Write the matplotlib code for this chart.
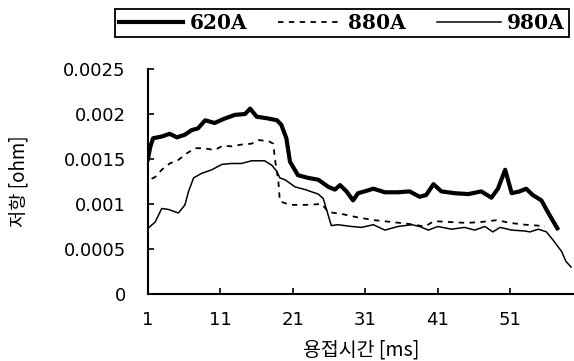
import matplotlib
matplotlib.use("Agg")
import matplotlib.pyplot as plt

# data (time in ms, resistance in ohm)
x_620 = [1.0, 1.3, 1.7, 2.9, 4.0, 5.0, 6.1, 7.0, 7.9, 8.9, 10.2, 11.6, 13.0, 14.4, 15.1, 16.0,
         17.6, 18.8, 19.4, 20.1, 20.6, 21.7, 23.1, 24.5, 25.9, 26.8, 27.5, 28.4, 29.3, 30.0,
         30.9, 32.1, 33.7, 35.5, 37.1, 38.5, 39.4, 40.4, 41.5, 43.3, 45.2, 47.0, 48.4, 49.3,
         50.3, 51.2, 52.3, 53.2, 54.1, 55.3, 56.4, 57.5]
y_620 = [0.00150, 0.00163, 0.00173, 0.00175, 0.00178, 0.00174, 0.00177, 0.00182, 0.00184,
         0.00193, 0.00190, 0.00195, 0.00199, 0.00200, 0.00206, 0.00197, 0.00195, 0.00193,
         0.00188, 0.00173, 0.00147, 0.00132, 0.00129, 0.00127, 0.00119, 0.00116, 0.00121,
         0.00114, 0.00104, 0.00112, 0.00114, 0.00117, 0.00113, 0.00113, 0.00114, 0.00108,
         0.00110, 0.00122, 0.00114, 0.00112, 0.00111, 0.00114, 0.00107, 0.00117, 0.00138,
         0.00112, 0.00114, 0.00117, 0.00110, 0.00104, 0.00088, 0.00073]

x_880 = [1.5, 2.0, 2.9, 4.0, 5.2, 6.3, 7.5, 8.6, 10.2, 11.4, 12.5, 13.9, 15.3, 16.2, 17.6,
         18.3, 18.5, 19.0, 19.2, 20.6, 22.7, 25.0, 25.9, 27.7, 30.0, 32.3, 34.6, 36.9, 39.2,
         40.5, 42.5, 45.0, 47.0, 49.1, 51.0, 53.0, 54.8, 55.8]
y_880 = [0.00128, 0.00130, 0.00138, 0.00145, 0.00149, 0.00156, 0.00162, 0.00162, 0.00160,
         0.00165, 0.00164, 0.00166, 0.00167, 0.00171, 0.00170, 0.00167, 0.00151, 0.00125,
         0.00103, 0.00099, 0.00099, 0.00100, 0.00091, 0.00089, 0.00085, 0.00082, 0.00080,
         0.00078, 0.00075, 0.00081, 0.00080, 0.00079, 0.00080, 0.00082, 0.00079, 0.00077,
         0.00076, 0.00075]

x_980 = [1.0, 2.0, 2.9, 3.8, 5.2, 6.1, 6.6, 7.3, 8.4, 9.8, 11.2, 12.5, 13.9, 15.3, 17.1,
         18.1, 18.8, 19.2, 19.9, 21.3, 22.7, 24.5, 25.2, 25.6, 26.3, 27.2, 29.1, 30.5, 32.1,
         33.7, 35.5, 37.4, 38.5, 39.7, 41.0, 42.9, 44.7, 46.1, 47.5, 48.6, 49.6, 51.2, 53.0,
         53.7, 54.9, 56.0, 57.1, 58.1, 58.7, 59.4]
y_980 = [0.00073, 0.00080, 0.00095, 0.00094, 0.00090, 0.00099, 0.00114, 0.00129, 0.00134,
         0.00138, 0.00144, 0.00145, 0.00145, 0.00148, 0.00148, 0.00143, 0.00136, 0.00129,
         0.00127, 0.00119, 0.00116, 0.00111, 0.00106, 0.00095, 0.00076, 0.00077, 0.00075,
         0.00074, 0.00077, 0.00071, 0.00075, 0.00077, 0.00075, 0.00071, 0.00075, 0.00072,
         0.00074, 0.00071, 0.00075, 0.00069, 0.00074, 0.00071, 0.00070, 0.00069, 0.00072,
         0.00069, 0.00058, 0.00047, 0.00036, 0.00030]

series_names = ["620A", "880A", "980A"]
x_ticks = [1, 11, 21, 31, 41, 51]
y_ticks = [0, 0.0005, 0.001, 0.0015, 0.002, 0.0025]
y_tick_labels = ["0", "0.0005", "0.001", "0.0015", "0.002", "0.0025"]

fig = plt.figure(figsize=(5.74, 3.61), dpi=100)
ax = fig.add_axes([0.2578, 0.1856, 0.7422, 0.6233])

l1, = ax.plot(x_620, y_620, color="black", lw=3.0, solid_joinstyle="round")
l2, = ax.plot(x_880, y_880, color="black", lw=1.3, linestyle=(0, (3, 3)))
l3, = ax.plot(x_980, y_980, color="black", lw=1.1)

ax.set_xlim(1, 59.8)
ax.set_ylim(0, 0.0025)
ax.set_xticks(x_ticks)
ax.set_xticklabels([str(t) for t in x_ticks])
ax.set_yticks(y_ticks)
ax.set_yticklabels(y_tick_labels)

for side in ["top", "right"]:
    ax.spines[side].set_visible(False)
for side in ["left", "bottom"]:
    ax.spines[side].set_linewidth(1.5)

ax.tick_params(axis="y", direction="in", length=4, width=1.2, pad=16, labelsize=13)
ax.tick_params(axis="x", direction="in", length=4, width=1.2, pad=12, labelsize=13)

kfont = ["Noto Sans CJK KR", "DejaVu Sans"]
ax.set_xlabel("용접시간 [ms]", family=kfont, fontsize=14, labelpad=8)
ax.set_ylabel("저항 [ohm]", family=kfont, fontsize=13.5, labelpad=24)

leg = fig.legend([l1, l2, l3], series_names, loc="lower left",
                 bbox_to_anchor=(115 / 574, (361 - 37) / 361, 454 / 574, 29 / 361),
                 mode="expand", ncol=3, borderaxespad=0, borderpad=0.2,
                 handlelength=3.2, handletextpad=0.3, columnspacing=1.0,
                 fancybox=False, framealpha=1,
                 prop={"family": "DejaVu Serif", "weight": "bold", "size": 14.5})
leg.get_frame().set_edgecolor("black")
leg.get_frame().set_linewidth(1.3)

fig.savefig("out.png", dpi=100)
